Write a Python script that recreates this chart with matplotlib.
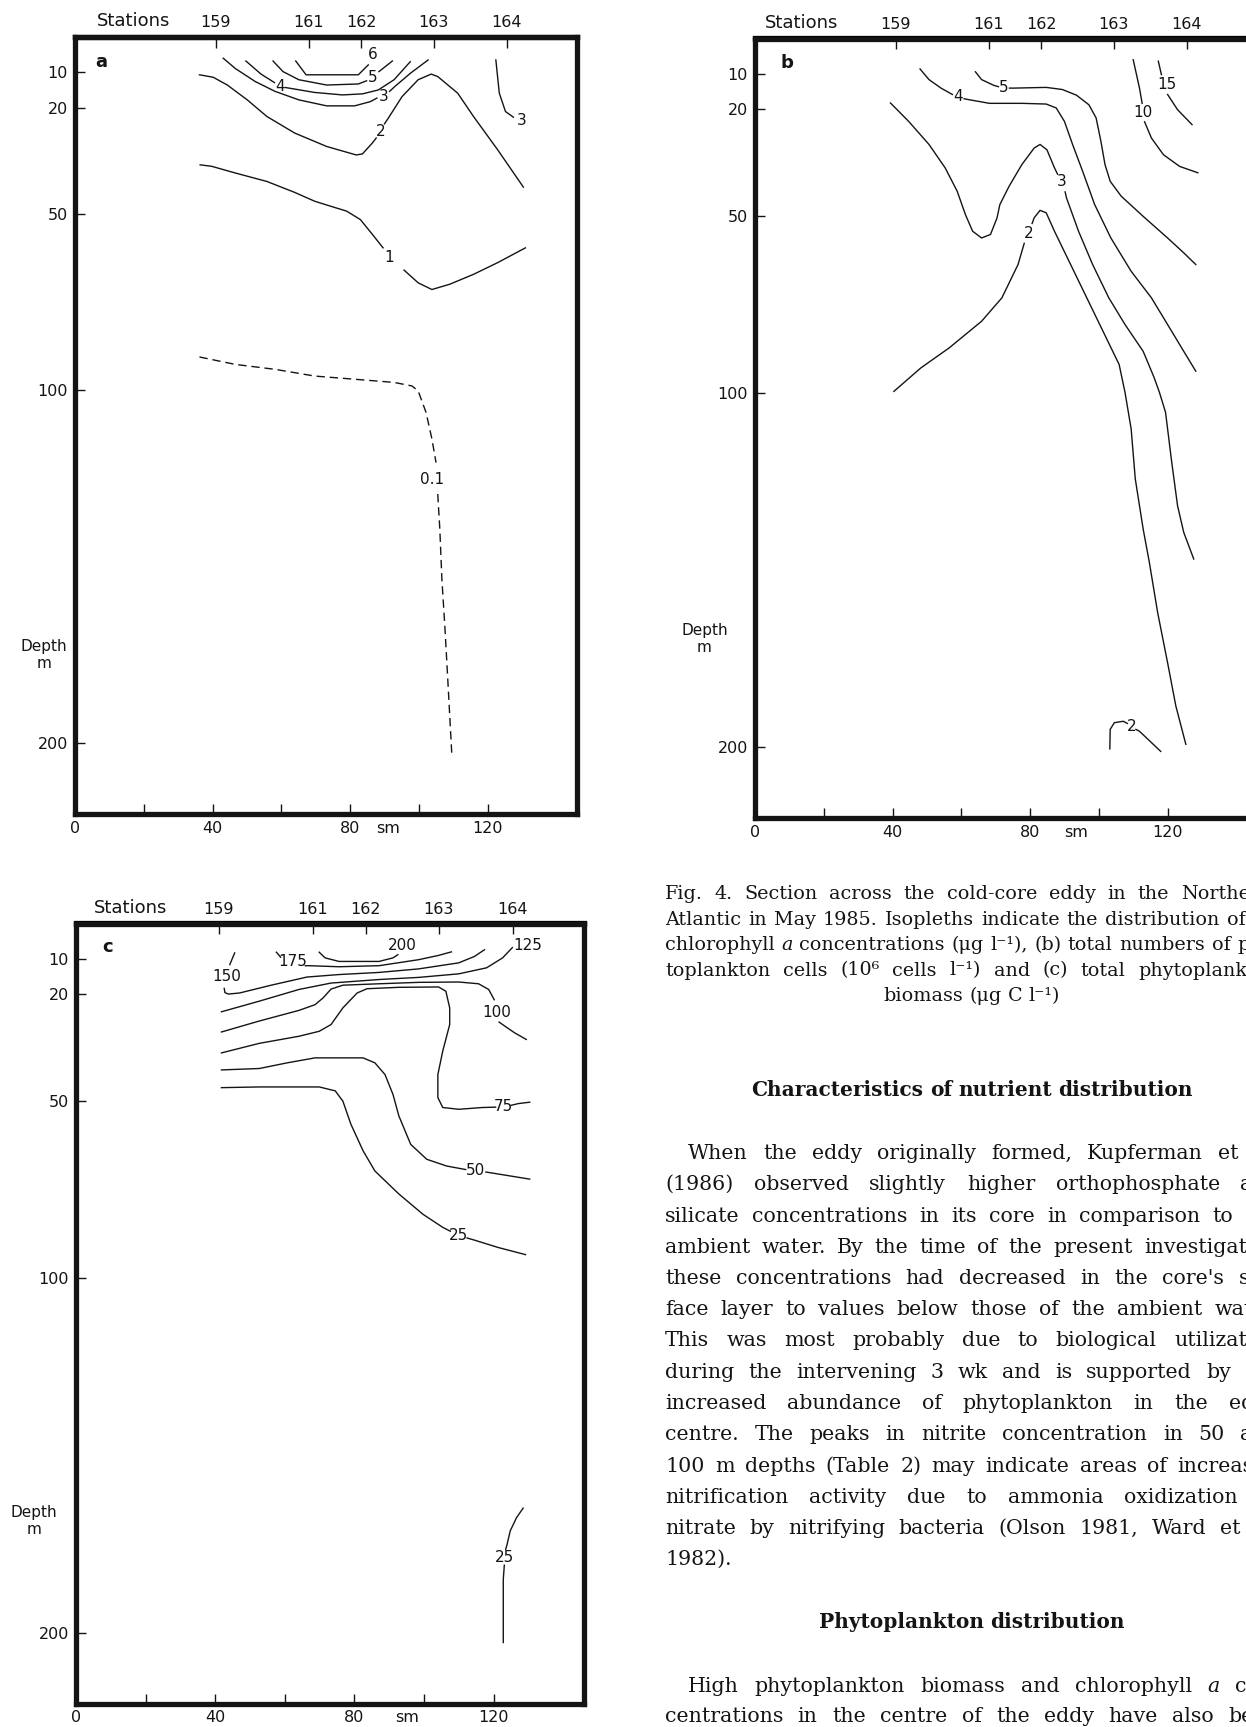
import matplotlib
matplotlib.use('Agg')
import matplotlib.pyplot as plt
from matplotlib.transforms import blended_transform_factory

# ---------------- data (distance in sm, depth in m) ----------------
stations = ['159', '161', '162', '163', '164']
station_pos = [41, 68, 83.3, 104.3, 125.5]
depth_ticks = [10, 20, 50, 100, 200]
dist_ticks = [0, 20, 40, 60, 80, 100, 120]
dist_labels = ['0', '', '40', '', '80', '', '120']

# panel a: chlorophyll a (ug/l)
a_6 = [[(64.2, 6.8), (67.2, 10.7), (82.4, 10.7), (85.3, 7.9)]]
a_5 = [[(57.6, 6.8), (60.5, 9.8), (65.1, 12.1), (73.2, 13.6), (82.4, 13.3), (84.8, 12.4)],
       [(88.4, 9.8), (92.3, 6.8)]]
a_4 = [[(49.7, 6.8), (54.1, 10.5), (58.0, 12.9)],
       [(61.2, 14.3), (69.7, 15.7), (77.8, 16.4), (83.6, 16.1), (88.2, 15.0), (92.8, 12.1), (97.5, 7.0)]]
a_3 = [[(43.1, 6.0), (46.6, 8.9), (52.4, 12.6), (58.2, 15.4), (65.1, 17.8), (73.2, 19.5), (81.3, 19.5),
        (85.9, 18.3), (87.8, 17.3)],
       [(91.5, 15.4), (92.8, 14.2), (97.5, 10.3), (102.7, 6.5)]]
a_2 = [[(36.2, 10.7), (40.2, 11.4), (44.3, 13.6), (50.1, 17.8), (55.8, 22.5), (63.9, 27.2), (73.2, 31.0),
        (81.8, 33.4), (83.6, 33.1), (86.5, 30.0), (87.6, 28.6)],
       [(90.0, 24.6), (91.1, 23.0), (95.1, 16.9), (99.8, 12.1), (103.6, 10.5), (105.5, 11.2), (111.3, 15.9),
        (115.9, 22.5), (122.9, 31.9), (130.4, 42.5)]]
a_3b = [[(122.4, 6.5), (123.4, 15.9), (125.2, 21.1), (127.5, 22.7)]]
a_1 = [[(36.4, 36.2), (39.7, 36.6), (46.6, 38.5), (55.8, 40.9), (63.9, 44.0), (69.7, 46.5), (74.3, 47.9),
        (79.0, 49.3), (83.0, 51.7), (86.5, 55.9), (89.6, 59.7)],
       [(95.7, 66.0), (99.8, 69.6), (103.8, 71.5), (109.0, 70.0), (115.9, 67.2), (122.9, 63.9), (131.0, 59.7)]]
a_01 = [[(36.2, 90.6), (46.6, 92.7), (58.2, 94.1), (69.7, 96.0), (81.3, 96.9), (92.8, 97.8), (98.0, 98.8),
         (99.8, 100.2), (102.1, 106.3), (103.8, 113.8), (105.0, 120.5)],
        [(105.5, 129.4), (106.1, 139.3), (106.7, 153.4), (107.6, 167.5), (108.4, 181.6), (109.6, 203.3)]]

# panel b: phytoplankton cells (10^6 cells/l)
b_4 = [[(48.0, 8.6), (50.6, 11.6), (54.1, 14.0), (57.4, 15.8)],
       [(60.8, 17.0), (62.4, 17.3), (68.2, 18.3), (77.6, 18.3), (84.7, 18.5), (87.6, 19.6), (90.0, 23.4),
        (92.4, 30.0), (95.3, 37.5), (98.8, 46.9), (103.5, 56.3), (109.4, 65.7), (115.3, 73.2),
        (120.6, 81.7), (124.7, 88.3), (128.2, 93.9)]]
b_5 = [[(64.1, 9.4), (65.9, 11.6), (69.4, 13.2), (70.8, 13.6)],
       [(74.0, 14.0), (75.3, 14.0), (84.7, 13.8), (89.4, 14.4), (93.5, 16.0), (97.1, 18.7), (99.2, 22.4),
        (100.6, 29.0), (101.8, 35.6), (103.3, 40.3), (106.5, 44.5), (112.9, 50.2), (120.0, 56.3),
        (124.7, 60.5), (128.2, 63.8)]]
b_3 = [[(39.4, 18.2), (44.7, 23.4), (50.6, 29.9), (55.3, 36.5), (58.8, 43.1), (61.2, 49.7), (63.3, 54.4),
        (65.9, 56.3), (68.5, 55.3), (70.4, 50.6), (71.2, 46.9), (73.9, 41.7), (77.6, 35.6), (81.2, 30.9),
        (82.9, 29.9), (84.9, 31.4), (87.1, 36.5), (88.0, 38.3)],
       [(90.2, 43.3), (90.6, 45.0), (94.1, 54.4), (98.2, 63.8), (102.9, 73.2), (107.6, 80.7), (112.9, 88.3),
        (116.0, 95.5), (117.6, 99.8), (119.4, 105.5), (121.2, 119.6), (122.9, 131.9), (124.7, 139.4),
        (127.6, 146.9)]]
b_2 = [[(40.4, 99.6), (48.2, 93.0), (56.5, 87.3), (65.9, 79.8), (71.8, 73.2), (76.5, 63.8), (78.3, 57.8)],
       [(80.6, 52.2), (81.2, 50.6), (82.9, 48.5), (84.7, 49.2), (87.1, 54.4), (91.8, 63.8), (96.5, 73.2),
        (101.2, 82.6), (105.9, 92.0), (107.6, 99.8), (109.4, 110.2), (110.6, 124.3), (112.9, 138.5),
        (114.7, 147.9), (117.1, 162.0), (120.0, 176.2), (122.4, 188.4), (125.3, 199.2)]]
b_10 = [[(110.0, 6.0), (111.8, 13.9), (112.6, 18.3)],
        [(113.3, 23.5), (115.3, 28.1), (118.8, 32.8), (123.5, 36.1), (128.8, 37.9)]]
b_15 = [[(117.3, 6.4), (118.2, 10.2)],
        [(120.0, 15.8), (122.9, 20.1), (127.1, 24.3)]]
b_2b = [[(103.2, 200.5), (103.3, 195.0), (104.5, 193.1), (107.1, 192.7), (108.3, 193.3)],
        [(110.8, 195.0), (111.8, 195.5), (118.0, 201.2)]]

# panel c: phytoplankton biomass (ug C/l)
c_200 = [[(69.9, 8.1), (71.6, 9.7), (75.6, 10.7), (87.1, 10.7), (91.1, 9.7), (92.5, 8.8)]]
c_175 = [[(57.6, 8.1), (58.8, 9.5)],
         [(65.9, 11.9), (67.0, 11.9), (75.6, 12.2), (87.1, 11.9), (98.5, 10.2), (104.2, 9.0), (107.9, 8.0)]]
c_150 = [[(45.6, 8.3), (44.2, 11.6)],
         [(42.6, 18.3), (42.8, 19.5), (43.8, 19.9), (47.0, 19.6), (56.1, 17.4), (66.4, 15.1), (75.6, 14.4),
          (87.1, 13.8), (98.5, 12.8), (110.0, 11.1), (114.5, 9.3), (117.4, 7.4)]]
c_125 = [[(41.8, 24.9), (52.7, 21.9), (64.1, 18.6), (73.3, 16.8), (87.1, 15.8), (98.5, 15.2), (110.0, 14.2),
          (118.0, 12.5), (122.6, 9.7), (125.4, 6.8)]]
c_100 = [[(41.8, 30.6), (52.7, 27.5), (64.1, 24.5), (68.7, 22.9), (71.0, 21.0), (73.3, 18.5), (76.7, 17.4),
          (87.1, 17.0), (98.5, 16.6), (110.0, 16.5), (115.7, 17.0), (118.6, 18.6), (120.2, 21.5)],
         [(121.6, 27.8), (122.6, 28.5), (126.0, 30.8), (129.4, 32.7)]]
c_75 = [[(41.8, 36.5), (52.7, 33.8), (64.1, 31.8), (69.9, 30.4), (73.3, 28.5), (76.7, 23.8), (80.8, 19.6),
         (83.6, 18.4), (92.8, 18.0), (104.2, 17.9), (106.3, 19.1), (107.4, 23.8), (107.4, 28.5), (105.4, 36.0),
         (104.0, 42.6), (104.0, 49.1), (105.4, 51.9), (110.0, 52.4), (116.8, 51.9), (120.6, 51.8)],
        [(125.0, 51.3), (127.1, 50.8), (130.4, 50.4)]]
c_50 = [[(41.8, 41.3), (52.7, 40.9), (60.7, 39.3), (68.7, 37.9), (82.5, 37.9), (85.9, 39.3), (88.8, 42.6),
         (91.1, 48.2), (92.8, 54.3), (96.2, 62.3), (100.8, 66.5), (106.5, 68.4), (112.0, 69.4)],
        [(117.8, 70.1), (119.1, 70.3), (130.4, 72.1)]]
c_25 = [[(41.8, 46.3), (52.7, 46.1), (69.9, 46.1), (74.5, 47.2), (76.7, 50.1), (79.0, 56.6), (82.5, 64.1),
         (85.9, 69.8), (92.8, 76.3), (99.7, 82.0), (105.4, 85.7), (107.6, 86.8)],
        [(112.4, 88.7), (114.5, 89.3), (121.4, 91.4), (129.2, 93.4)]]
c_25b = [[(128.5, 164.9), (126.6, 167.6), (124.8, 171.3), (123.9, 175.1), (123.5, 176.5)],
         [(123.1, 181.0), (122.8, 185.0), (122.8, 202.8)]]

# isopleth label text and where it sits
panel_a = [(a_6, '6', 86.5, 4.9), (a_5, '5', 86.6, 11.4), (a_4, '4', 59.6, 13.9), (a_3, '3', 89.8, 16.8),
           (a_2, '2', 88.8, 26.8), (a_3b, '3', 129.9, 23.7), (a_1, '1', 91.4, 62.5)]
panel_b = [(b_4, '4', 59.1, 16.5), (b_5, '5', 72.4, 13.8), (b_3, '3', 89.3, 40.3), (b_2, '2', 79.5, 55.0),
           (b_10, '10', 112.9, 21.0), (b_15, '15', 119.8, 12.9), (b_2b, '2', 109.6, 194.3)]
panel_c = [(c_200, '200', 93.7, 6.3), (c_175, '175', 62.4, 10.6), (c_150, '150', 43.4, 15.0),
           (c_125, '125', 129.8, 6.2), (c_100, '100', 120.8, 25.0), (c_75, '75', 122.8, 51.7),
           (c_50, '50', 114.9, 69.8), (c_25, '25', 110.0, 87.9), (c_25b, '25', 123.1, 178.7)]

caption = [
    "Fig. 4. Section across the cold-core eddy in the Northeast",
    "Atlantic in May 1985. Isopleths indicate the distribution of (a)",
    "chlorophyll *a concentrations (μg l⁻¹), (b) total numbers of phy-",
    "toplankton cells (10⁶ cells l⁻¹) and (c) total phytoplankton",
]
caption_end = "biomass (μg C l⁻¹)"
head1 = "Characteristics of nutrient distribution"
para1 = [
    "When the eddy originally formed, Kupferman et al.",
    "(1986) observed slightly higher orthophosphate and",
    "silicate concentrations in its core in comparison to the",
    "ambient water. By the time of the present investigation",
    "these concentrations had decreased in the core's sur-",
    "face layer to values below those of the ambient water.",
    "This was most probably due to biological utilization",
    "during the intervening 3 wk and is supported by the",
    "increased abundance of phytoplankton in the eddy",
    "centre. The peaks in nitrite concentration in 50 and",
    "100 m depths (Table 2) may indicate areas of increased",
    "nitrification activity due to ammonia oxidization to",
    "nitrate by nitrifying bacteria (Olson 1981, Ward et al.",
    "1982).",
]
head2 = "Phytoplankton distribution"
para2 = [
    "High phytoplankton biomass and chlorophyll *a con-",
    "centrations in the centre of the eddy have also been",
]

# ---------------- drawing ----------------
ink = '#141414'
W, H = 1246, 1727
fig = plt.figure(figsize=(W / 100, H / 100), dpi=100)
fig.patch.set_facecolor('white')
plt.rcParams['font.family'] = ['DejaVu Sans']

tax = fig.add_axes([0, 0, 1, 1])
tax.set_xlim(0, W)
tax.set_ylim(H, 0)
tax.set_axis_off()

boxes = {
    'a': [75 / W, 1 - 814 / H, 502 / W, 777 / H],
    'b': [755 / W, 1 - 818 / H, 502 / W, 779.5 / H],
    'c': [76 / W, 1 - 1703.5 / H, 508 / W, 780 / H],
}


def setup(ax, letter, letter_xy, st_x, depth_xy, sm_x):
    ax.set_xlim(0, 146)
    ax.set_ylim(220, 0)
    for sp in ax.spines.values():
        sp.set_linewidth(3.8)
        sp.set_color(ink)
    ax.set_yticks(depth_ticks)
    ax.set_xticks(dist_ticks, dist_labels)
    ax.tick_params(direction='in', length=7, width=1, labelsize=11.5, pad=5, colors=ink)
    top = ax.secondary_xaxis('top')
    top.set_xticks(station_pos, stations)
    top.tick_params(direction='in', length=8, width=1, labelsize=11.5, pad=5, colors=ink)
    top.spines['top'].set_linewidth(3.8)
    trans = blended_transform_factory(ax.transData, ax.transAxes)
    ax.annotate('Stations', xy=(st_x, 1), xycoords=trans, xytext=(0, 5), textcoords='offset points',
                ha='center', va='bottom', fontsize=13, color=ink)
    ax.annotate('sm', xy=(sm_x, 0), xycoords=trans, xytext=(0, -5), textcoords='offset points',
                ha='center', va='top', fontsize=11.5, color=ink)
    ax.text(depth_xy[0], depth_xy[1], 'Depth\nm', ha='center', va='center', fontsize=11,
            linespacing=1.1, color=ink, clip_on=False)
    ax.text(letter_xy[0], letter_xy[1], letter, ha='center', va='center', fontsize=13,
            fontweight='bold', color=ink)


def draw_panel(ax, isos, dashed=None):
    for segs, lab, lx, ly in isos:
        for s in segs:
            xs, ys = zip(*s)
            ax.plot(xs, ys, color=ink, lw=1.0)
        ax.text(lx, ly, lab, ha='center', va='center', fontsize=11, color=ink)
    if dashed is not None:
        segs, lab, lx, ly = dashed
        for s in segs:
            xs, ys = zip(*s)
            ax.plot(xs, ys, color=ink, lw=1.0, ls=(0, (6, 3.5)))
        ax.text(lx, ly, lab, ha='center', va='center', fontsize=11, color=ink)


ax_a = fig.add_axes(boxes['a'])
setup(ax_a, 'a', (7.5, 7.0), 16.9, (-9.0, 175), 91.1)
draw_panel(ax_a, panel_a, dashed=(a_01, '0.1', 103.8, 125.2))

ax_b = fig.add_axes(boxes['b'])
setup(ax_b, 'b', (9.2, 6.8), 13.6, (-14.7, 169.5), 93.5)
draw_panel(ax_b, panel_b)

ax_c = fig.add_axes(boxes['c'])
setup(ax_c, 'c', (9.2, 6.7), 15.8, (-12.0, 168.5), 95.1)
draw_panel(ax_c, panel_c)

# ---------------- text column (cut off by the page edge, as in the scan) ----------------
renderer = fig.canvas.get_renderer()
col_x0, col_x1 = 665, 1279


def put_line(line, y, size, mode='justify', weight='normal', indent=0):
    words = line.split(' ')
    ts = []
    for w in words:
        style = 'normal'
        if w.startswith('*'):
            w = w[1:]
            style = 'italic'
        ts.append(tax.text(0, y, w, fontsize=size, family='DejaVu Serif', style=style,
                           weight=weight, va='baseline', ha='left', color=ink))
    ws = [t.get_window_extent(renderer).width for t in ts]
    space = 0.318 * size * 100 / 72
    x0 = col_x0 + indent
    if mode == 'justify' and len(ts) > 1:
        gap = max((col_x1 - x0 - sum(ws)) / (len(ts) - 1), 0.55 * space)
    else:
        gap = space
    total = sum(ws) + gap * (len(ts) - 1)
    x = x0 if mode != 'center' else (col_x0 + col_x1) / 2 - total / 2
    for t, w in zip(ts, ws):
        t.set_x(x)
        x += w + gap


cap_size, body_size, head_size = 13.8, 14.8, 14.5
for i, line in enumerate(caption):
    put_line(line, 899 + i * 25.5, cap_size)
put_line(caption_end, 899 + 4 * 25.5, cap_size, mode='center')
put_line(head1, 1095.5, head_size, mode='center', weight='bold')
for i, line in enumerate(para1):
    last = i == len(para1) - 1
    put_line(line, 1159 + i * 31.25, body_size, mode='left' if last else 'justify',
             indent=23 if i == 0 else 0)
put_line(head2, 1628.5, head_size, mode='center', weight='bold')
for i, line in enumerate(para2):
    put_line(line, 1692 + i * 30.5, body_size, indent=23 if i == 0 else 0)

fig.savefig('out.png', dpi=100, facecolor='white')
